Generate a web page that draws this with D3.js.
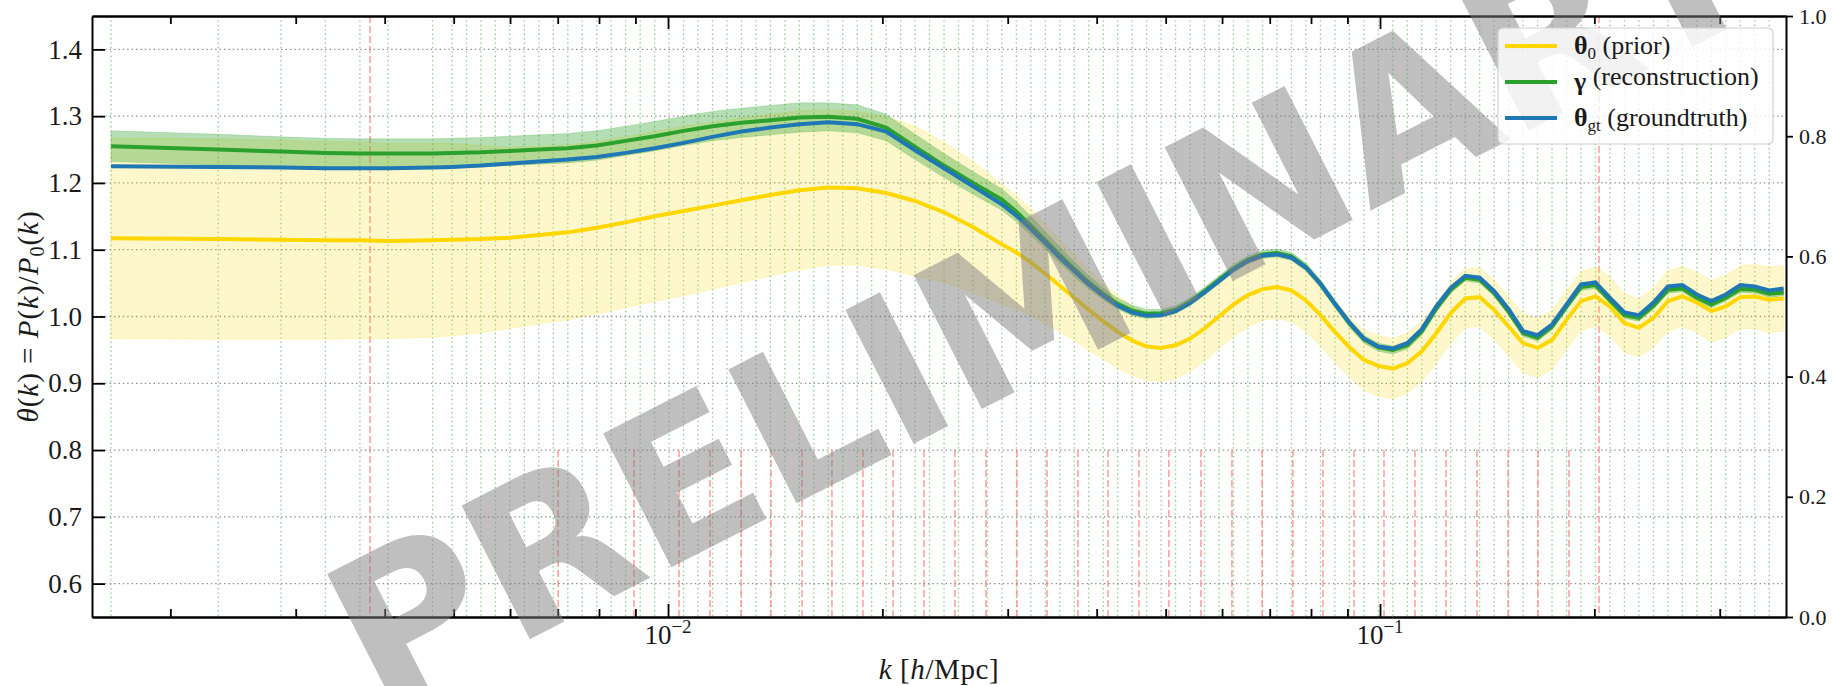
<!DOCTYPE html>
<html>
<head>
<meta charset="utf-8">
<script src="https://cdn.jsdelivr.net/npm/d3@7"></script>
<style>
    body { margin: 0; background: #fff; }
    svg text { font-family: 'Liberation Serif', serif; }
</style>
</head>
<body>
<svg id="viz"></svg>
<script>
// ratio plot: prior, reconstruction and ground truth of theta(k)

// k values of the bins (green dotted lines)
const kBins = [0.001651, 0.002335, 0.002860, 0.003302, 0.003692, 0.004044, 0.004670,
    0.004973, 0.005212, 0.005461, 0.005723, 0.005997, 0.006285, 0.006585, 0.006901, 0.007232, 0.007578,
    0.007942, 0.008321, 0.008720, 0.009140, 0.009576, 0.010035, 0.010515, 0.011019, 0.011548, 0.012100,
    0.012681, 0.013288, 0.013924, 0.014593, 0.015292, 0.016024, 0.016791, 0.017596, 0.018439, 0.019321,
    0.020248, 0.021218, 0.022234, 0.023301, 0.024417, 0.025586, 0.026811, 0.028098, 0.029443, 0.030853,
    0.032333, 0.033881, 0.035503, 0.037207, 0.038988, 0.040855, 0.042811, 0.044866, 0.047014, 0.049265,
    0.051629, 0.054101, 0.056691, 0.059412, 0.062257, 0.065237, 0.068391, 0.071663, 0.075093, 0.078705,
    0.082479, 0.086428, 0.090573, 0.094929, 0.099471, 0.104232, 0.109226, 0.114476, 0.119950, 0.125693,
    0.131735, 0.138038, 0.144644, 0.151600, 0.158855, 0.166458, 0.174422, 0.182810, 0.191560, 0.200726,
    0.210378, 0.220447, 0.230997, 0.242103, 0.253689, 0.265830, 0.278612, 0.291946, 0.305918, 0.320627,
    0.335972, 0.352051];

// red dashed markers (short ones stop at 0.8)
const kMarksFull = [0.003815, 0.203052];
const kMarksShort = [0.007009, 0.008959, 0.010362, 0.011455, 0.012664, 0.013954, 0.015427, 0.016992,
    0.018785, 0.020701, 0.022881, 0.025293, 0.027961, 0.030914, 0.034060, 0.037653, 0.041496, 0.045868,
    0.050525, 0.056049, 0.061944, 0.068295, 0.075456, 0.083155, 0.091931, 0.101298, 0.111961, 0.123799,
    0.136836, 0.151288, 0.166688, 0.184247];

// sample points of the curves
const kCurve = [0.001651, 0.002335, 0.002860, 0.003302, 0.003692, 0.004044, 0.004670,
    0.004973, 0.005461, 0.005997, 0.006585, 0.007232, 0.007942, 0.008720, 0.009576, 0.010515, 0.011548,
    0.012681, 0.013924, 0.015292, 0.016791, 0.018439, 0.020248, 0.022234, 0.024417, 0.026811, 0.029443,
    0.030853, 0.032333, 0.033881, 0.035503, 0.037207, 0.038988, 0.040855, 0.042811, 0.044866, 0.047014,
    0.049265, 0.051629, 0.054101, 0.056691, 0.059412, 0.062257, 0.065237, 0.068391, 0.071663, 0.075093,
    0.078705, 0.082479, 0.086428, 0.090573, 0.094929, 0.099471, 0.104232, 0.109226, 0.114476, 0.119950,
    0.125693, 0.131735, 0.138038, 0.144644, 0.151600, 0.158855, 0.166458, 0.174422, 0.182810, 0.191560,
    0.200726, 0.210378, 0.220447, 0.230997, 0.242103, 0.253689, 0.265830, 0.278612, 0.291946, 0.305918,
    0.320627, 0.335972, 0.352051, 0.368900];

const priorMean = [1.117, 1.116, 1.115, 1.114, 1.114, 1.113, 1.114,
    1.115, 1.116, 1.118, 1.122, 1.126, 1.133, 1.141, 1.150, 1.158, 1.166,
    1.174, 1.182, 1.189, 1.193, 1.192, 1.185, 1.173, 1.156, 1.134, 1.108,
    1.096, 1.081, 1.064, 1.046, 1.028, 1.010, 0.993, 0.977, 0.964, 0.955,
    0.953, 0.957, 0.967, 0.982, 1.000, 1.018, 1.032, 1.041, 1.044, 1.039,
    1.024, 1.002, 0.977, 0.954, 0.935, 0.926, 0.922, 0.930, 0.948, 0.975,
    1.005, 1.027, 1.029, 1.010, 0.985, 0.960, 0.953, 0.965, 0.995, 1.023,
    1.030, 1.015, 0.990, 0.983, 0.998, 1.023, 1.030, 1.021, 1.008, 1.015,
    1.029, 1.030, 1.025, 1.027];

const priorErr = [0.150, 0.150, 0.149, 0.148, 0.147, 0.146, 0.145,
    0.144, 0.140, 0.136, 0.133, 0.131, 0.129, 0.128, 0.127, 0.127, 0.125,
    0.123, 0.121, 0.119, 0.116, 0.115, 0.114, 0.112, 0.105, 0.098, 0.090,
    0.085, 0.080, 0.074, 0.069, 0.064, 0.060, 0.057, 0.054, 0.052, 0.051,
    0.050, 0.050, 0.049, 0.049, 0.048, 0.048, 0.048, 0.047, 0.047, 0.047,
    0.046, 0.046, 0.046, 0.045, 0.045, 0.045, 0.045, 0.045, 0.045, 0.045,
    0.045, 0.044, 0.044, 0.044, 0.044, 0.044, 0.044, 0.044, 0.044, 0.044,
    0.044, 0.044, 0.044, 0.043, 0.044, 0.045, 0.045, 0.045, 0.046, 0.046,
    0.047, 0.048, 0.049, 0.049];

const reconMean = [1.255, 1.250, 1.247, 1.245, 1.244, 1.244, 1.244,
    1.245, 1.246, 1.248, 1.250, 1.252, 1.256, 1.263, 1.270, 1.278, 1.285,
    1.290, 1.294, 1.298, 1.299, 1.296, 1.283, 1.254, 1.226, 1.200, 1.175,
    1.157, 1.136, 1.114, 1.092, 1.071, 1.051, 1.034, 1.019, 1.009, 1.004,
    1.005, 1.010, 1.022, 1.038, 1.055, 1.072, 1.085, 1.093, 1.095, 1.090,
    1.074, 1.049, 1.019, 0.990, 0.966, 0.954, 0.950, 0.957, 0.978, 1.012,
    1.040, 1.058, 1.055, 1.035, 1.007, 0.975, 0.968, 0.985, 1.015, 1.044,
    1.047, 1.024, 1.002, 0.998, 1.016, 1.040, 1.042, 1.028, 1.018, 1.028,
    1.041, 1.040, 1.034, 1.036];

const reconErr = [0.023, 0.023, 0.022, 0.022, 0.022, 0.022, 0.022,
    0.022, 0.022, 0.022, 0.022, 0.022, 0.022, 0.022, 0.022, 0.022, 0.022,
    0.022, 0.022, 0.022, 0.021, 0.021, 0.020, 0.019, 0.018, 0.017, 0.016,
    0.015, 0.014, 0.013, 0.012, 0.011, 0.010, 0.009, 0.008, 0.008, 0.007,
    0.006, 0.006, 0.006, 0.006, 0.006, 0.006, 0.006, 0.006, 0.006, 0.006,
    0.006, 0.006, 0.006, 0.006, 0.006, 0.006, 0.006, 0.006, 0.006, 0.006,
    0.005, 0.005, 0.005, 0.005, 0.005, 0.005, 0.005, 0.005, 0.005, 0.005,
    0.005, 0.005, 0.005, 0.005, 0.005, 0.005, 0.005, 0.005, 0.005, 0.005,
    0.005, 0.005, 0.005, 0.005];

const truthMean = [1.225, 1.224, 1.223, 1.222, 1.222, 1.222, 1.223,
    1.224, 1.226, 1.229, 1.232, 1.235, 1.239, 1.245, 1.252, 1.260, 1.269,
    1.277, 1.283, 1.288, 1.291, 1.288, 1.277, 1.249, 1.222, 1.195, 1.168,
    1.151, 1.131, 1.110, 1.088, 1.068, 1.048, 1.031, 1.016, 1.006, 1.001,
    1.002, 1.008, 1.020, 1.036, 1.053, 1.070, 1.083, 1.091, 1.093, 1.088,
    1.073, 1.049, 1.019, 0.991, 0.967, 0.955, 0.952, 0.960, 0.981, 1.015,
    1.043, 1.061, 1.058, 1.038, 1.011, 0.978, 0.972, 0.988, 1.018, 1.048,
    1.051, 1.028, 1.006, 1.002, 1.021, 1.045, 1.047, 1.033, 1.023, 1.033,
    1.047, 1.045, 1.039, 1.042];

const yTicks = [0.6, 0.7, 0.8, 0.9, 1.0, 1.1, 1.2, 1.3, 1.4];
const yRightTicks = [0.0, 0.2, 0.4, 0.6, 0.8, 1.0];
const xMajor = [0.01, 0.1];
const xMajorExp = ['\u22122', '\u22121'];
const xMinor = [0.002, 0.003, 0.004, 0.005, 0.006, 0.007, 0.008, 0.009,
    0.02, 0.03, 0.04, 0.05, 0.06, 0.07, 0.08, 0.09, 0.2, 0.3];

const legendItems = [
    {sym: '\u03b8', sub: '0', text: ' (prior)', color: '#ffd700'},
    {sym: '\u03b3', sub: '', text: ' (reconstruction)', color: '#2ca02c'},
    {sym: '\u03b8', sub: 'gt', text: ' (groundtruth)', color: '#1f77b4'}
];

// Layout

const width = 1832;
const height = 686;
const margin = {left: 92, right: 46, top: 16, bottom: 69};
const plotW = width - margin.left - margin.right;
const plotH = height - margin.top - margin.bottom;
const ink = '#1a1a1a';

const svg = d3.select('#viz')
    .attr('width', width)
    .attr('height', height);

const x = d3.scaleLog().domain([0.0015524, 0.37171]).range([margin.left, margin.left + plotW]);
const y = d3.scaleLinear().domain([0.55, 1.45]).range([margin.top + plotH, margin.top]);
const yR = d3.scaleLinear().domain([0, 1]).range([margin.top + plotH, margin.top]);

const yBot = margin.top + plotH;

svg.append('clipPath').attr('id', 'clip')
    .append('rect')
    .attr('x', margin.left).attr('y', margin.top)
    .attr('width', plotW).attr('height', plotH);

// Grid and markers

const grid = svg.append('g').attr('class', 'grid');

grid.selectAll('line.hgrid')
    .data(yTicks)
    .enter()
    .append('line')
    .attr('class', 'hgrid')
    .attr('x1', margin.left).attr('x2', margin.left + plotW)
    .attr('y1', (d) => y(d)).attr('y2', (d) => y(d))
    .attr('stroke', '#8c8c8c')
    .attr('stroke-width', 1.3)
    .attr('stroke-dasharray', '1.4,3');

grid.selectAll('line.kbin')
    .data(kBins)
    .enter()
    .append('line')
    .attr('class', 'kbin')
    .attr('x1', (d) => x(d)).attr('x2', (d) => x(d))
    .attr('y1', margin.top).attr('y2', yBot)
    .attr('stroke', '#6cbf6c')
    .attr('stroke-opacity', 0.8)
    .attr('stroke-width', 1.3)
    .attr('stroke-dasharray', '1.4,3');

grid.selectAll('line.mshort')
    .data(kMarksShort)
    .enter()
    .append('line')
    .attr('class', 'mshort')
    .attr('x1', (d) => x(d)).attr('x2', (d) => x(d))
    .attr('y1', y(0.8)).attr('y2', yBot)
    .attr('stroke', '#ff7070')
    .attr('stroke-opacity', 0.7)
    .attr('stroke-width', 1.5)
    .attr('stroke-dasharray', '7,3');

grid.selectAll('line.mfull')
    .data(kMarksFull)
    .enter()
    .append('line')
    .attr('class', 'mfull')
    .attr('x1', (d) => x(d)).attr('x2', (d) => x(d))
    .attr('y1', margin.top).attr('y2', yBot)
    .attr('stroke', '#ff7070')
    .attr('stroke-opacity', 0.7)
    .attr('stroke-width', 1.5)
    .attr('stroke-dasharray', '7,3');

// Bands and curves

const plot = svg.append('g').attr('clip-path', 'url(#clip)');

function band(mean, err) {
    return d3.area()
        .x((d, i) => x(kCurve[i]))
        .y0((d, i) => y(mean[i] - err[i]))
        .y1((d, i) => y(mean[i] + err[i]))(kCurve);
}

function curve(vals) {
    return d3.line()
        .x((d, i) => x(kCurve[i]))
        .y((d, i) => y(vals[i]))(kCurve);
}

plot.append('path')
    .attr('d', band(priorMean, priorErr))
    .attr('fill', '#ffd700')
    .attr('fill-opacity', 0.2)
    .attr('stroke', '#ffd700')
    .attr('stroke-opacity', 0.2);

plot.append('path')
    .attr('d', band(reconMean, reconErr))
    .attr('fill', '#2ca02c')
    .attr('fill-opacity', 0.35)
    .attr('stroke', '#2ca02c')
    .attr('stroke-opacity', 0.2);

plot.append('path')
    .attr('d', curve(priorMean))
    .attr('fill', 'none')
    .attr('stroke', '#ffd700')
    .attr('stroke-width', 4);

plot.append('path')
    .attr('d', curve(reconMean))
    .attr('fill', 'none')
    .attr('stroke', '#2ca02c')
    .attr('stroke-width', 4);

plot.append('path')
    .attr('d', curve(truthMean))
    .attr('fill', 'none')
    .attr('stroke', '#1f77b4')
    .attr('stroke-width', 4);

// Axes

const axes = svg.append('g').attr('class', 'axes');

const bottomAxis = axes.append('g')
    .attr('transform', `translate(0,${ yBot })`)
    .call(d3.axisBottom(x).tickValues(xMinor).tickSizeInner(-8).tickSizeOuter(0).tickFormat(''));
bottomAxis.append('g')
    .call(d3.axisBottom(x).tickValues(xMajor).tickSizeInner(-13).tickSizeOuter(0).tickFormat(''));

const topAxis = axes.append('g')
    .attr('transform', `translate(0,${ margin.top })`)
    .call(d3.axisTop(x).tickValues(xMinor).tickSizeInner(-8).tickSizeOuter(0).tickFormat(''));
topAxis.append('g')
    .call(d3.axisTop(x).tickValues(xMajor).tickSizeInner(-13).tickSizeOuter(0).tickFormat(''));

const leftAxis = axes.append('g')
    .attr('transform', `translate(${ margin.left },0)`)
    .call(d3.axisLeft(y).tickValues(yTicks).tickSizeInner(-13).tickSizeOuter(0).tickPadding(10).tickFormat(d3.format('.1f')));

const rightAxis = axes.append('g')
    .attr('transform', `translate(${ margin.left + plotW },0)`)
    .call(d3.axisRight(yR).tickValues(yRightTicks).tickSizeInner(7).tickSizeOuter(0).tickPadding(6).tickFormat(d3.format('.1f')));

axes.selectAll('.domain').attr('stroke', '#000').attr('stroke-width', 2);
axes.selectAll('.tick line').attr('stroke', '#000').attr('stroke-width', 1.8);

leftAxis.selectAll('text')
    .style('font-family', 'Liberation Serif')
    .style('font-size', '27px')
    .style('fill', ink);

rightAxis.selectAll('text')
    .style('font-family', 'Liberation Serif')
    .style('font-size', '22px')
    .style('fill', ink);

// decade labels with superscript
const xLabels = axes.append('g')
    .selectAll('text')
    .data(xMajor)
    .enter()
    .append('text')
    .attr('x', (d) => x(d))
    .attr('y', yBot + 27)
    .attr('text-anchor', 'middle')
    .style('font-size', '27px')
    .style('fill', ink);
xLabels.append('tspan').text('10');
xLabels.append('tspan')
    .attr('dy', -11)
    .style('font-size', '19px')
    .text((d, i) => xMajorExp[i]);

// axis titles
const xTitle = svg.append('text')
    .attr('x', margin.left + plotW / 2)
    .attr('y', 679)
    .attr('text-anchor', 'middle')
    .style('font-size', '29px')
    .style('letter-spacing', '0.6px')
    .style('fill', ink);
xTitle.append('tspan').style('font-style', 'italic').text('k');
xTitle.append('tspan').text(' [');
xTitle.append('tspan').style('font-style', 'italic').text('h');
xTitle.append('tspan').text('/Mpc]');

const yTitle = svg.append('text')
    .attr('transform', `translate(38,${ margin.top + plotH / 2 }) rotate(-90)`)
    .attr('text-anchor', 'middle')
    .style('font-size', '29px')
    .style('letter-spacing', '1px')
    .style('fill', ink);
yTitle.append('tspan').style('font-style', 'italic').text('\u03b8');
yTitle.append('tspan').text('(');
yTitle.append('tspan').style('font-style', 'italic').text('k');
yTitle.append('tspan').text(') = ');
yTitle.append('tspan').style('font-style', 'italic').text('P');
yTitle.append('tspan').text('(');
yTitle.append('tspan').style('font-style', 'italic').text('k');
yTitle.append('tspan').text(')/');
yTitle.append('tspan').style('font-style', 'italic').text('P');
yTitle.append('tspan').attr('dy', 6).style('font-size', '20px').text('0');
yTitle.append('tspan').attr('dy', -6).text('(');
yTitle.append('tspan').style('font-style', 'italic').text('k');
yTitle.append('tspan').text(')');

// Watermark

svg.append('text')
    .attr('transform', 'translate(1045,297) rotate(-27)')
    .attr('text-anchor', 'middle')
    .attr('dominant-baseline', 'central')
    .style('font-family', 'DejaVu Sans')
    .style('font-weight', 'bold')
    .style('font-size', '206px')
    .style('fill', '#808080')
    .style('fill-opacity', 0.5)
    .text('PRELIMINARY');

// Legend (above the watermark)

const legend = svg.append('g').attr('class', 'legend');

legend.append('rect')
    .attr('x', 1498).attr('y', 28)
    .attr('width', 275).attr('height', 116)
    .attr('rx', 5)
    .attr('fill', '#fff')
    .attr('fill-opacity', 0.8)
    .attr('stroke', '#d0d0d0')
    .attr('stroke-width', 1.2);

const entry = legend.selectAll('g.entry')
    .data(legendItems)
    .enter()
    .append('g')
    .attr('class', 'entry')
    .attr('transform', (d, i) => `translate(1505,${ 46 + i * 36 })`);

entry.append('line')
    .attr('x1', 0).attr('x2', 52)
    .attr('stroke', (d) => d.color)
    .attr('stroke-width', 4);

const entryText = entry.append('text')
    .attr('x', 69)
    .attr('y', 8)
    .style('font-size', '26px')
    .style('fill', ink);
entryText.append('tspan').style('font-weight', 'bold').text((d) => d.sym);
entryText.append('tspan').attr('dy', 5).style('font-size', '17px').text((d) => d.sub);
entryText.append('tspan').attr('dy', -5).text((d) => d.text);
</script>
</body>
</html>
